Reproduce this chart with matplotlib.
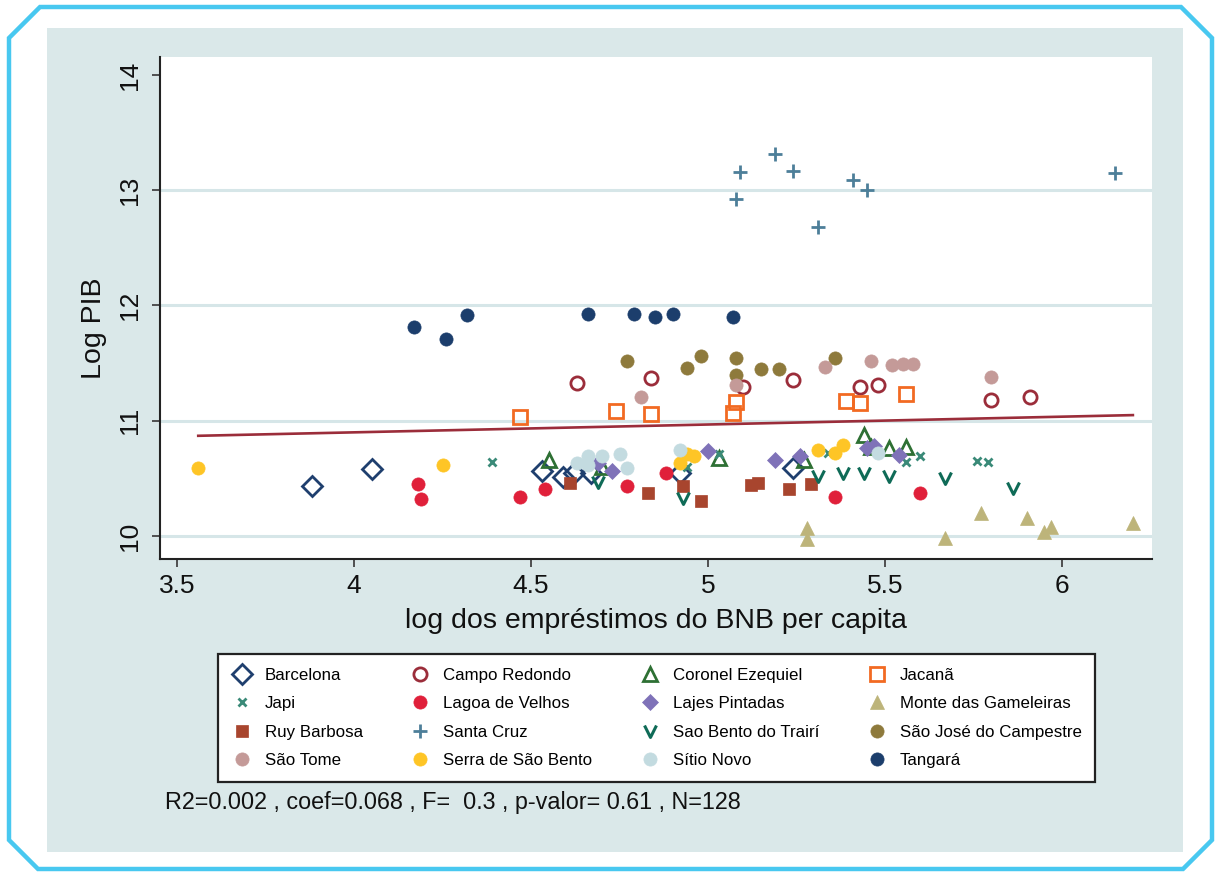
import matplotlib
matplotlib.use('Agg')
import matplotlib.pyplot as plt
from matplotlib.path import Path
from matplotlib.patches import Rectangle, Polygon

plt.rcParams['font.family'] = ['Liberation Sans', 'DejaVu Sans']

# values: log BNB loans per capita (x) vs log GDP (y)
barcelona_x = [3.88, 4.05, 4.53, 4.59, 4.62, 4.67, 4.92, 5.24]
barcelona_y = [10.43, 10.58, 10.56, 10.51, 10.55, 10.55, 10.55, 10.59]
campo_x = [4.63, 4.84, 5.10, 5.24, 5.43, 5.48, 5.80, 5.91]
campo_y = [11.33, 11.37, 11.29, 11.35, 11.29, 11.31, 11.18, 11.21]
coronel_x = [4.55, 4.70, 5.03, 5.27, 5.44, 5.46, 5.51, 5.56]
coronel_y = [10.66, 10.60, 10.68, 10.66, 10.88, 10.77, 10.76, 10.77]
jacana_x = [4.47, 4.74, 4.84, 5.08, 5.07, 5.39, 5.43, 5.56]
jacana_y = [11.03, 11.08, 11.06, 11.16, 11.07, 11.17, 11.15, 11.23]
japi_x = [4.39, 4.94, 5.03, 5.34, 5.56, 5.60, 5.76, 5.79]
japi_y = [10.64, 10.60, 10.71, 10.72, 10.64, 10.69, 10.65, 10.64]
lagoa_x = [4.18, 4.19, 4.47, 4.54, 4.77, 4.88, 5.36, 5.60]
lagoa_y = [10.45, 10.32, 10.34, 10.41, 10.43, 10.55, 10.34, 10.37]
lajes_x = [4.69, 4.73, 5.00, 5.19, 5.26, 5.45, 5.47, 5.54]
lajes_y = [10.63, 10.56, 10.74, 10.66, 10.69, 10.76, 10.78, 10.70]
monte_x = [5.28, 5.28, 5.67, 5.77, 5.90, 5.95, 5.97, 6.20]
monte_y = [10.07, 9.97, 9.98, 10.20, 10.16, 10.03, 10.08, 10.11]
ruy_x = [4.61, 4.83, 4.93, 4.98, 5.12, 5.14, 5.23, 5.29]
ruy_y = [10.46, 10.37, 10.43, 10.30, 10.44, 10.46, 10.41, 10.45]
santacruz_x = [5.09, 5.08, 5.19, 5.24, 5.31, 5.41, 5.45, 6.15]
santacruz_y = [13.16, 12.92, 13.31, 13.17, 12.68, 13.09, 13.00, 13.15]
saobento_x = [4.69, 4.93, 5.31, 5.38, 5.44, 5.51, 5.67, 5.86]
saobento_y = [10.47, 10.33, 10.52, 10.55, 10.55, 10.52, 10.50, 10.42]
saojose_x = [4.77, 4.94, 4.98, 5.08, 5.08, 5.15, 5.20, 5.36]
saojose_y = [11.52, 11.46, 11.56, 11.54, 11.40, 11.45, 11.45, 11.54]
saotome_x = [4.81, 5.08, 5.33, 5.46, 5.52, 5.55, 5.58, 5.80]
saotome_y = [11.21, 11.31, 11.47, 11.52, 11.48, 11.49, 11.49, 11.38]
serra_x = [3.56, 4.25, 4.92, 4.94, 4.96, 5.31, 5.36, 5.38]
serra_y = [10.59, 10.62, 10.63, 10.71, 10.69, 10.75, 10.72, 10.79]
sitio_x = [4.63, 4.66, 4.66, 4.70, 4.75, 4.77, 4.92, 5.48]
sitio_y = [10.63, 10.69, 10.62, 10.69, 10.71, 10.59, 10.75, 10.72]
tangara_x = [4.17, 4.26, 4.32, 4.66, 4.79, 4.85, 4.90, 5.07]
tangara_y = [11.81, 11.71, 11.92, 11.93, 11.93, 11.90, 11.93, 11.90]

names = ['Barcelona', 'Campo Redondo', 'Coronel Ezequiel', 'Jacanã',
         'Japi', 'Lagoa de Velhos', 'Lajes Pintadas', 'Monte das Gameleiras',
         'Ruy Barbosa', 'Santa Cruz', 'Sao Bento do Trairí', 'São José do Campestre',
         'São Tome', 'Serra de São Bento', 'Sítio Novo', 'Tangará']
xs_all = [barcelona_x, campo_x, coronel_x, jacana_x, japi_x, lagoa_x, lajes_x, monte_x,
          ruy_x, santacruz_x, saobento_x, saojose_x, saotome_x, serra_x, sitio_x, tangara_x]
ys_all = [barcelona_y, campo_y, coronel_y, jacana_y, japi_y, lagoa_y, lajes_y, monte_y,
          ruy_y, santacruz_y, saobento_y, saojose_y, saotome_y, serra_y, sitio_y, tangara_y]

# regression stats
r2, coef, fstat, pval, n_obs = 0.002, 0.068, 0.3, 0.61, 128
intercept = 10.627

# small "v" marker like stata's
v_marker = Path([(-0.5, 0.5), (0, -0.5), (0.5, 0.5)], [Path.MOVETO, Path.LINETO, Path.LINETO])

# marker, colour, filled, size, edge width
styles = [
    ('D', '#1f3f6e', False, 10.5, 2.0),
    ('o', '#9b2d3a', False, 9.5, 2.0),
    ('^', '#2e7034', False, 10.5, 2.0),
    ('s', '#f26a22', False, 10, 2.0),
    ('x', '#3a8a78', False, 5.5, 2.0),
    ('o', '#e0203a', True, 9.5, 0.5),
    ('D', '#7f72b8', True, 8.3, 0.5),
    ('^', '#bdb47a', True, 10.5, 0.5),
    ('s', '#a8452e', True, 8.7, 0.5),
    ('+', '#4d7f99', False, 10, 2.0),
    (v_marker, '#0f6b57', False, 8.6, 2.2),
    ('o', '#8e7a3c', True, 9.5, 0.5),
    ('o', '#c49a98', True, 9.5, 0.5),
    ('o', '#fec526', True, 9.5, 0.5),
    ('o', '#c3dbe0', True, 9.5, 0.5),
    ('o', '#1c3e6c', True, 9.5, 0.5),
]

W, H = 1218, 872
fig = plt.figure(figsize=(W / 100, H / 100), dpi=100)
fig.patch.set_facecolor('white')

# light panel + cyan frame
fig.add_artist(Rectangle((47 / W, 1 - 852 / H), (1183 - 47) / W, (852 - 28) / H,
                         transform=fig.transFigure, facecolor='#dae8e9', edgecolor='none', zorder=0))
frame_px = [(40, 7), (1181, 7), (1212, 38), (1212, 840), (1183, 869), (38, 869), (9, 840), (9, 38)]
fig.add_artist(Polygon([(x / W, 1 - y / H) for x, y in frame_px], closed=True,
                       transform=fig.transFigure, fill=False, edgecolor='#48c8f0', lw=3.2, zorder=0))

ax = fig.add_axes([160 / W, 1 - 559 / H, (1152 - 160) / W, (559 - 57) / H])
ax.set_facecolor('white')
ax.set_xlim(3.452, 6.254)
ax.set_ylim(9.80, 14.156)

for g in [10, 11, 12, 13]:
    ax.axhline(g, color='#d6e6e8', lw=2.2, zorder=1)

for name, xs, ys, st in zip(names, xs_all, ys_all, styles):
    mk, col, filled, ms, mew = st
    ax.plot(xs, ys, linestyle='none', marker=mk, ms=ms, mfc=col if filled else 'none',
            mec=col, mew=mew, label=name, zorder=3)

all_x = [v for xs in xs_all for v in xs]
lx = [min(all_x), max(all_x)]
ax.plot(lx, [intercept + coef * v for v in lx], color='#9b2d3a', lw=1.9, zorder=2)

for s in ['top', 'right']:
    ax.spines[s].set_visible(False)
for s in ['left', 'bottom']:
    ax.spines[s].set_linewidth(1.5)
    ax.spines[s].set_color('#222222')

ax.set_xticks([3.5, 4, 4.5, 5, 5.5, 6])
ax.set_xticklabels(['3.5', '4', '4.5', '5', '5.5', '6'])
ax.set_yticks([10, 11, 12, 13, 14])
ax.set_yticklabels(['10', '11', '12', '13', '14'], rotation=90, va='center')
ax.tick_params(axis='both', direction='out', length=6, width=1.3, color='#444444',
               labelsize=19, labelcolor='#111111')
ax.tick_params(axis='x', pad=5)
ax.tick_params(axis='y', pad=7)
ax.set_xlabel('log dos empréstimos do BNB per capita', fontsize=20.5, labelpad=7, color='#111111')
ax.set_ylabel('Log PIB', fontsize=20.5, color='#111111')
ax.yaxis.set_label_coords(-0.053, 0.46)

# legend filled row by row, like stata
handles, labels = ax.get_legend_handles_labels()
order = [r * 4 + c for c in range(4) for r in range(4)]
leg = fig.legend([handles[i] for i in order], [labels[i] for i in order], ncol=4,
                 loc='upper left', bbox_to_anchor=(218 / W, 1 - 654 / H),
                 bbox_transform=fig.transFigure, borderaxespad=0, fontsize=12.2,
                 frameon=True, fancybox=False, edgecolor='#222222', framealpha=1,
                 handlelength=1.2, handletextpad=0.75, columnspacing=2.8,
                 labelspacing=0.8, borderpad=0.8)
leg.get_frame().set_linewidth(1.6)

fig.text(165 / W, 1 - 803 / H,
         f'R2={r2} , coef={coef} , F=  {fstat} , p-valor= {pval} , N={n_obs}',
         fontsize=16.8, va='center', ha='left', color='#111111')

fig.savefig('out.png', dpi=100)
